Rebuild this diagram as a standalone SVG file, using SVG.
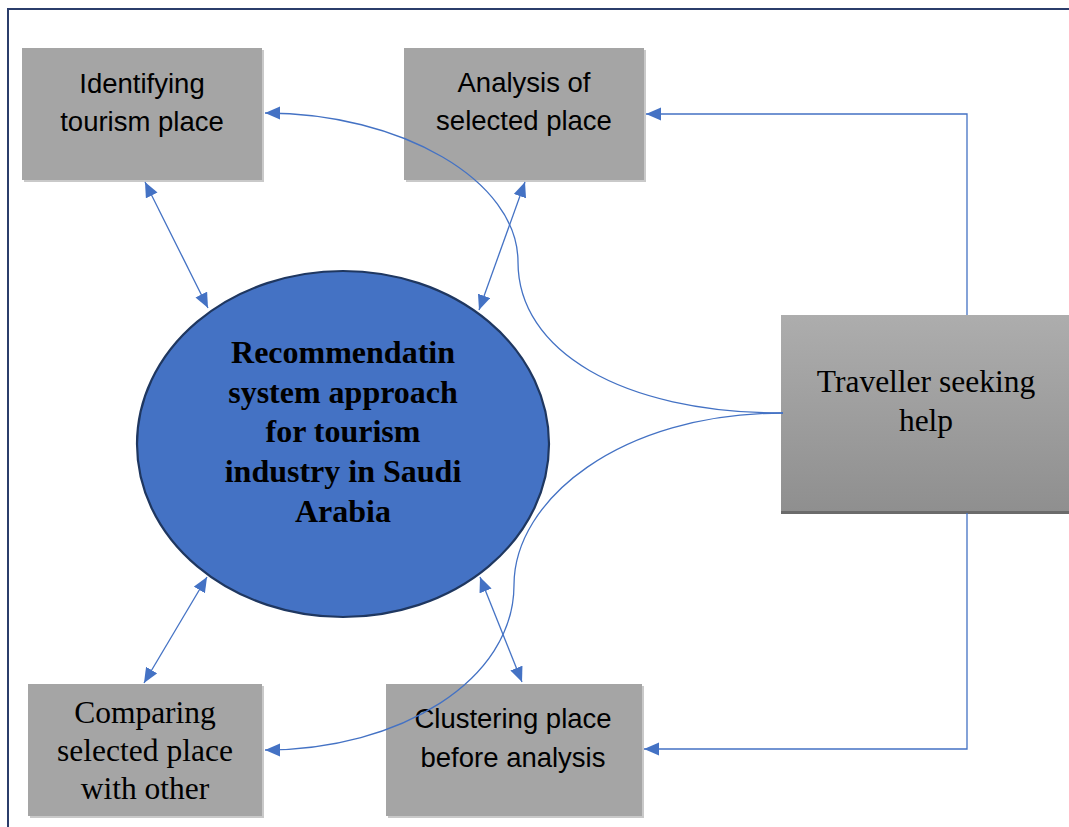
<svg xmlns="http://www.w3.org/2000/svg" width="1069" height="827" viewBox="0 0 1069 827">
<style>
.box{fill:#a5a5a5;}
.sh{fill:#c9c9c9;}
.sans{font-family:"Liberation Sans",Arial,sans-serif;font-size:27.5px;fill:#000;text-anchor:middle;}
.serif{font-family:"Liberation Serif","Times New Roman",serif;font-size:31.5px;fill:#000;text-anchor:middle;}
.bold{font-family:"Liberation Serif","Times New Roman",serif;font-size:32px;font-weight:bold;fill:#000;text-anchor:middle;}
.con{fill:none;stroke:#4472c4;stroke-width:1.3;}
</style>
<defs>
<marker id="ah" markerUnits="userSpaceOnUse" markerWidth="16" markerHeight="14" refX="15" refY="6.5" orient="auto-start-reverse">
<path d="M0,0 L15,6.5 L0,13 Z" fill="#4472c4"/>
</marker>
<linearGradient id="tg" x1="0" y1="0" x2="0" y2="1">
<stop offset="0" stop-color="#adadad"/>
<stop offset="1" stop-color="#8f8f8f"/>
</linearGradient>
</defs>
<rect width="1069" height="827" fill="#ffffff"/>
<rect x="8" y="9" width="1080" height="840" fill="none" stroke="#2b3d6b" stroke-width="2"/>

<g id="identifying">
<rect class="sh" x="24" y="50" width="240" height="132"/>
<rect class="box" x="22" y="48" width="240" height="132"/>
<text class="sans" x="142" y="93">Identifying</text>
<text class="sans" x="142" y="131">tourism place</text>
</g>

<g id="analysis">
<rect class="sh" x="406" y="50" width="240" height="132"/>
<rect class="box" x="404" y="48" width="240" height="132"/>
<text class="sans" x="524" y="92">Analysis of</text>
<text class="sans" x="524" y="130">selected place</text>
</g>

<g id="traveller">
<rect x="781" y="315" width="300" height="199" fill="#6b6b6b"/>
<rect x="781" y="315" width="300" height="196" fill="url(#tg)"/>
<text class="serif" x="926" y="392">Traveller seeking</text>
<text class="serif" x="926" y="431">help</text>
</g>

<g id="comparing">
<rect class="sh" x="30" y="686" width="234" height="132"/>
<rect class="box" x="28" y="684" width="234" height="132"/>
<text class="serif" x="145" y="723">Comparing</text>
<text class="serif" x="145" y="761">selected place</text>
<text class="serif" x="145" y="799">with other</text>
</g>

<g id="clustering">
<rect class="sh" x="388" y="686" width="256" height="132"/>
<rect class="box" x="386" y="684" width="256" height="132"/>
<text class="sans" x="513" y="728">Clustering place</text>
<text class="sans" x="513" y="767">before analysis</text>
</g>

<g id="center">
<ellipse cx="343" cy="444" rx="206" ry="173" fill="#4472c4" stroke="#1f3760" stroke-width="2.2"/>
<text class="bold" x="343" y="363">Recommendatin</text>
<text class="bold" x="343" y="403">system approach</text>
<text class="bold" x="343" y="442">for tourism</text>
<text class="bold" x="343" y="482">industry in Saudi</text>
<text class="bold" x="343" y="522">Arabia</text>
</g>

<g id="connectors">
<line class="con" x1="145" y1="182" x2="208" y2="308" marker-start="url(#ah)" marker-end="url(#ah)"/>
<line class="con" x1="525" y1="182" x2="479" y2="310" marker-start="url(#ah)" marker-end="url(#ah)"/>
<line class="con" x1="144" y1="683" x2="207" y2="577" marker-start="url(#ah)" marker-end="url(#ah)"/>
<line class="con" x1="522" y1="682" x2="480" y2="577" marker-start="url(#ah)" marker-end="url(#ah)"/>
<path class="con" d="M967,315 L967,114 L646,114" marker-end="url(#ah)"/>
<path class="con" d="M967,513 L967,749 L644,749" marker-end="url(#ah)"/>
<path class="con" d="M783,413 C620,413 518,350 518,262 C518,180 400,113 265,113" marker-end="url(#ah)"/>
<path class="con" d="M783,413 C620,413 514,500 514,585 C514,680 400,750 265,750" marker-end="url(#ah)"/>
</g>
</svg>
